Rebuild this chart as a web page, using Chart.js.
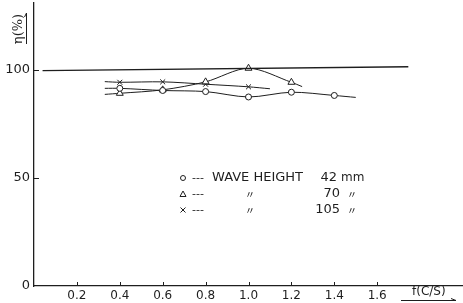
<!DOCTYPE html>
<html lang="en">
<head>
<meta charset="UTF-8">
<title>Wave height efficiency</title>
<script src="https://cdn.jsdelivr.net/npm/chart.js"></script>
<style>
  html, body { margin: 0; padding: 0; background: #fff; }
  #chart { display: block; }
</style>
</head>
<body>
<canvas id="chart" width="463" height="303"></canvas>
<script>
// values; first/last entry of each series is where the drawn curve ends (no marker)
var xTicks = [0.2, 0.4, 0.6, 0.8, 1.0, 1.2, 1.4, 1.6];
var yTicks = [0, 50, 100];

var freq42 = [0.33, 0.4, 0.6, 0.8, 1.0, 1.2, 1.4, 1.5];
var eff42 = [91.5, 91.5, 90.5, 90.0, 87.5, 89.7, 88.2, 87.3];
var freq70 = [0.33, 0.4, 0.6, 0.8, 1.0, 1.2, 1.25];
var eff70 = [88.7, 89.2, 90.8, 94.5, 100.8, 94.3, 92.3];
var freq105 = [0.33, 0.4, 0.6, 0.8, 1.0, 1.1];
var eff105 = [94.6, 94.3, 94.5, 93.4, 92.2, 91.3];
// the 100 % reference line
var refFreq = [0.04, 1.745];
var refEff = [99.7, 101.5];

var legendNames = ['WAVE HEIGHT', '〃', '〃'];
var legendHeights = ['42', '70', '105'];
var legendUnits = ['mm', '〃', '〃'];
var legendMarks = ['circle', 'triangle', 'crossRot'];

var INK = '#1e1e1e';

function pts(xs, ys) {
    return xs.map(function (x, i) { return { x: x, y: ys[i] }; });
}

function markerRadius(r) {
    return function (ctx) {
        var n = ctx.dataset.data.length;
        return (ctx.dataIndex === 0 || ctx.dataIndex === n - 1) ? 0 : r;
    };
}

function series(xs, ys, style, r) {
    return {
        data: pts(xs, ys),
        borderColor: INK,
        borderWidth: 1,
        backgroundColor: '#fff',
        pointStyle: style,
        pointRadius: markerRadius(r),
        pointHoverRadius: markerRadius(r),
        pointBorderColor: INK,
        pointBorderWidth: 1,
        tension: 0.3
    };
}

function mark(ctx, style, x, y) {
    ctx.beginPath();
    if (style === 'circle') {
        ctx.arc(x, y, 2.5, 0, Math.PI * 2);
    } else if (style === 'triangle') {
        ctx.moveTo(x, y - 3);
        ctx.lineTo(x + 3, y + 2.5);
        ctx.lineTo(x - 3, y + 2.5);
        ctx.closePath();
    } else {
        ctx.moveTo(x - 2.5, y - 2.5); ctx.lineTo(x + 2.5, y + 2.5);
        ctx.moveTo(x + 2.5, y - 2.5); ctx.lineTo(x - 2.5, y + 2.5);
    }
    ctx.stroke();
}

var extras = {
    id: 'extras',
    afterDraw: function (chart) {
        var ctx = chart.ctx;
        var xs = chart.scales.x, ys = chart.scales.y;
        var area = chart.chartArea;
        ctx.save();
        ctx.strokeStyle = INK;
        ctx.fillStyle = INK;
        ctx.lineWidth = 1;

        // inside tick marks
        xTicks.forEach(function (v) {
            var px = Math.round(xs.getPixelForValue(v)) + 0.5;
            ctx.beginPath();
            ctx.moveTo(px, area.bottom);
            ctx.lineTo(px, area.bottom - 4);
            ctx.stroke();
        });
        yTicks.forEach(function (v) {
            if (v === 0) return;
            var py = Math.round(ys.getPixelForValue(v)) + 0.5;
            ctx.beginPath();
            ctx.moveTo(area.left, py);
            ctx.lineTo(area.left + 5, py);
            ctx.stroke();
        });

        // y title, rotated, with arrow line
        ctx.save();
        ctx.translate(19, 29);
        ctx.rotate(-Math.PI / 2);
        ctx.font = '13px "DejaVu Serif"';
        ctx.textAlign = 'center';
        ctx.textBaseline = 'middle';
        ctx.fillText('η(%)', 0, 0);
        ctx.restore();
        ctx.beginPath();
        ctx.moveTo(26.5, 44); ctx.lineTo(26.5, 13);
        ctx.moveTo(26.5, 13); ctx.lineTo(24.5, 17);
        ctx.stroke();

        // x title with arrow
        ctx.font = '12px "DejaVu Sans"';
        ctx.textAlign = 'left';
        ctx.textBaseline = 'middle';
        ctx.fillText('f(C/S)', 412, 292);
        ctx.beginPath();
        ctx.moveTo(401, 300.5); ctx.lineTo(456, 300.5);
        ctx.moveTo(456, 300.5); ctx.lineTo(451, 298.5);
        ctx.stroke();

        // legend written inside the plot
        var rowsY = [178, 194, 210];
        legendNames.forEach(function (name, i) {
            var y = rowsY[i];
            mark(ctx, legendMarks[i], 183, y);
            ctx.font = '11px "DejaVu Sans"';
            ctx.textAlign = 'left';
            ctx.fillText('---', 192, y);
            if (i === 0) {
                ctx.font = '13px "DejaVu Sans"';
                ctx.fillText(name, 212, y);
            } else {
                ctx.font = '10px "Noto Sans CJK JP"';
                ctx.textAlign = 'center';
                ctx.fillText(name, 250, y);
            }
            ctx.font = '13px "DejaVu Sans"';
            ctx.textAlign = 'right';
            ctx.fillText(legendHeights[i], i === 0 ? 337 : 340, y);
            ctx.textAlign = 'left';
            if (i === 0) {
                ctx.font = '12px "DejaVu Sans"';
                ctx.fillText(legendUnits[i], 341, y);
            } else {
                ctx.font = '10px "Noto Sans CJK JP"';
                ctx.fillText(legendUnits[i], 347, y);
            }
        });
        ctx.restore();
    }
};

Chart.defaults.font.family = '"DejaVu Sans", sans-serif';
Chart.defaults.color = INK;

var chart = new Chart(document.getElementById('chart'), {
    type: 'line',
    data: {
        datasets: [
            {
                data: pts(refFreq, refEff),
                borderColor: INK,
                borderWidth: 1.3,
                pointRadius: 0,
                pointHoverRadius: 0,
                tension: 0
            },
            series(freq42, eff42, 'circle', 3),
            series(freq70, eff70, 'triangle', 4),
            series(freq105, eff105, 'crossRot', 3.5)
        ]
    },
    options: {
        responsive: false,
        animation: false,
        devicePixelRatio: 1,
        layout: { padding: { top: 3, right: 0, left: 0, bottom: 0 } },
        plugins: {
            legend: { display: false },
            tooltip: { enabled: false }
        },
        scales: {
            x: {
                type: 'linear',
                min: 0,
                max: 2.0,
                afterBuildTicks: function (scale) {
                    scale.ticks = xTicks.map(function (v) { return { value: v }; });
                },
                afterFit: function (scale) {
                    scale.height = 17;
                    scale.paddingLeft = 0;
                    scale.paddingRight = 0;
                },
                ticks: {
                    font: { size: 12 },
                    padding: 3,
                    maxRotation: 0,
                    callback: function (v) { return Number(v).toFixed(1); }
                },
                grid: { display: false, drawTicks: false },
                border: { display: true, color: INK, width: 1.3 }
            },
            y: {
                type: 'linear',
                min: 0,
                max: 131,
                afterBuildTicks: function (scale) {
                    scale.ticks = yTicks.map(function (v) { return { value: v }; });
                },
                afterFit: function (scale) {
                    scale.width = 34;
                    scale.paddingTop = 0;
                    scale.paddingBottom = 0;
                },
                ticks: {
                    font: { size: 13 },
                    padding: 4,
                    callback: function (v) { return String(v); }
                },
                grid: { display: false, drawTicks: false },
                border: { display: true, color: INK, width: 1.3 }
            }
        }
    },
    plugins: [extras]
});
</script>
</body>
</html>
